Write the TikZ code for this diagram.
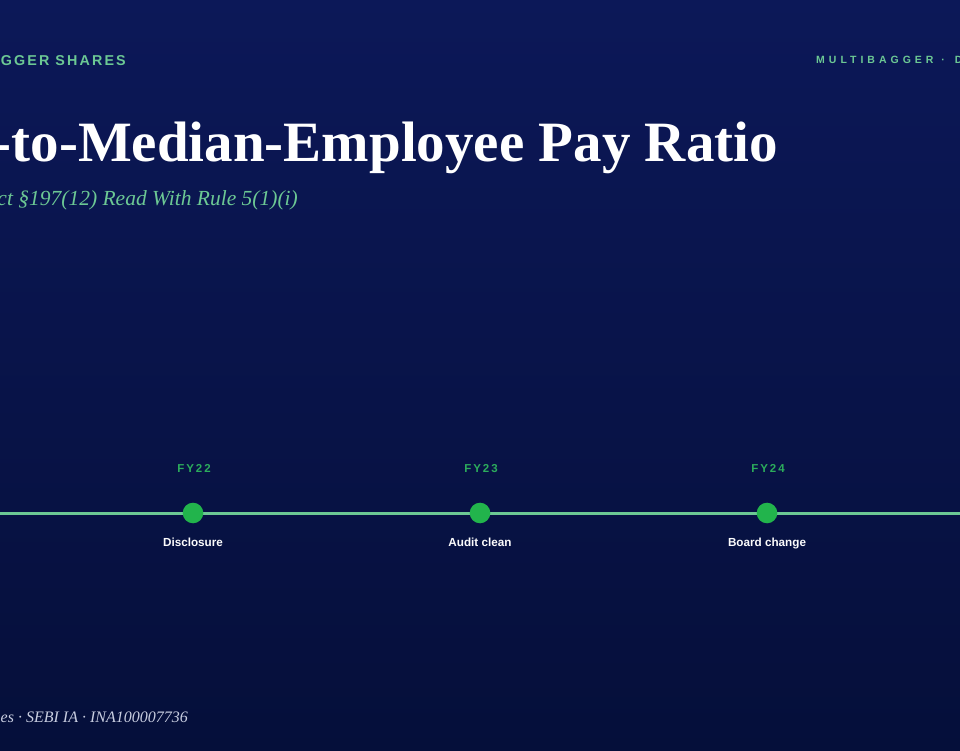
\documentclass[tikz,border=0pt]{standalone}
\usepackage{fontspec}
\setmainfont{Liberation Serif}
\setsansfont{Liberation Sans}
\newfontfamily\kickerfont[LetterSpace=15]{Liberation Sans}
\newfontfamily\tagfont[LetterSpace=38]{Liberation Sans}
\newfontfamily\yearfont[LetterSpace=17]{Liberation Sans}

\definecolor{bgtop}{RGB}{12,24,88}
\definecolor{bgbot}{RGB}{5,15,58}
\definecolor{mint}{RGB}{108,200,148}
\definecolor{dotgreen}{RGB}{34,180,76}
\definecolor{yeargreen}{RGB}{44,172,92}
\definecolor{paleink}{RGB}{200,205,224}

\tikzset{
	kicker/.style={text=mint, font=\kickerfont\bfseries\fontsize{14.3}{16}\selectfont, inner sep=0pt},
	tagline/.style={text=mint, font=\tagfont\bfseries\fontsize{10.5}{12}\selectfont, inner sep=0pt},
	tline/.style={draw=mint, line width=3pt},
	milestone/.style={circle, fill=dotgreen, minimum size=20.6pt, inner sep=0pt},
	yearlab/.style={text=yeargreen, font=\yearfont\bfseries\fontsize{11.5}{13}\selectfont, inner sep=0pt, anchor=base},
	eventlab/.style={text=white!92!paleink, font=\sffamily\bfseries\fontsize{11.7}{13}\selectfont, inner sep=0pt, anchor=base}
}

\begin{document}
\begin{tikzpicture}[x=1pt, y=1pt]
	\useasboundingbox (0,0) rectangle (960,750);
	\clip (0,0) rectangle (960,750);
	\shade[top color=bgtop, bottom color=bgbot] (0,0) rectangle (960,750);

	% header
	\node[kicker, anchor=base east] (brand) at (126,684.3) {GGER SHARES};
	\node[tagline, anchor=base west] (tagright) at (816,686.7) {MULTIBAGGER\hspace{8pt}·\hspace{10pt}D};

	\node[text=white, font=\bfseries\fontsize{57}{60}\selectfont, inner sep=0pt, anchor=base east] (title) at (778,588) {-to-Median-Employee Pay Ratio};
	\node[text=mint, font=\itshape\fontsize{21.5}{24}\selectfont, inner sep=0pt, anchor=base east] (subtitle) at (298,544) {ct §197(12) Read With Rule 5(1)(i)};

	% timeline
	\coordinate (lstart) at (0,237);
	\coordinate (lend) at (960,237);
	\draw[tline] (lstart) -- (lend);

	\foreach \x/\y/\name/\ev in {193/FY22/fy22/Disclosure, 480/FY23/fy23/Audit clean, 767/FY24/fy24/Board change}
	{
		\node[milestone] (\name) at (\x,237) {};
		\node[yearlab] (\name-yr) at (\x+1,278) {\y};
		\node[eventlab] (\name-ev) at (\x,203.3) {\ev};
	}

	% footer
	\node[text=paleink, font=\itshape\fontsize{16}{18}\selectfont, inner sep=0pt, anchor=base east] (footer) at (188,28) {es · SEBI IA · INA100007736};
\end{tikzpicture}
\end{document}
